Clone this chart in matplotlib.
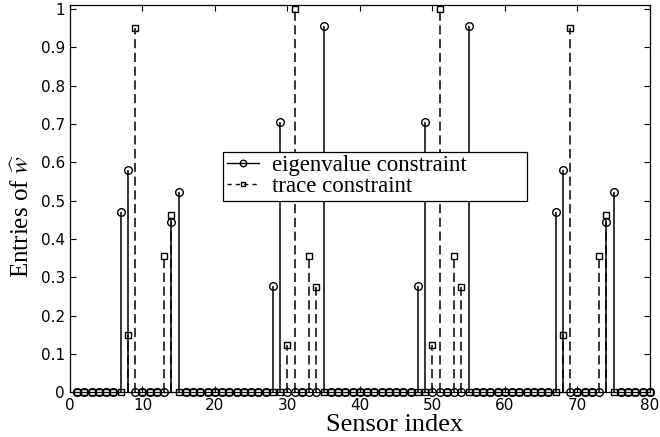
import numpy as np
import matplotlib
matplotlib.use("Agg")
import matplotlib.pyplot as plt
from matplotlib.lines import Line2D
from matplotlib.legend_handler import HandlerLine2D

# sensor indices 1..80, only the selected sensors carry a weight
n_sensors = 80
eig_idx = [7, 8, 14, 15, 28, 29, 35, 48, 49, 55, 67, 68, 74, 75]
eig_val = [0.471, 0.58, 0.444, 0.522, 0.278, 0.705, 0.955,
           0.278, 0.705, 0.955, 0.471, 0.58, 0.444, 0.522]
tr_idx = [8, 9, 13, 14, 30, 31, 33, 34, 50, 51, 53, 54, 68, 69, 73, 74]
tr_val = [0.15, 0.952, 0.357, 0.462, 0.124, 1.0, 0.356, 0.274,
          0.124, 1.0, 0.356, 0.274, 0.15, 0.952, 0.357, 0.462]

xticks = [0, 10, 20, 30, 40, 50, 60, 70, 80]
yticks = [0, 0.1, 0.2, 0.3, 0.4, 0.5, 0.6, 0.7, 0.8, 0.9, 1.0]
ytick_labels = ["0", "0.1", "0.2", "0.3", "0.4", "0.5", "0.6", "0.7", "0.8", "0.9", "1"]

idx = np.arange(1, n_sensors + 1)
w_eig = np.zeros(n_sensors)
w_eig[np.array(eig_idx) - 1] = eig_val
w_tr = np.zeros(n_sensors)
w_tr[np.array(tr_idx) - 1] = tr_val

plt.rcParams['mathtext.fontset'] = 'stix'
serif = ['Liberation Serif', 'DejaVu Serif']


class EndMarker(HandlerLine2D):
    # legend key: short line with the marker sitting at its right end
    def get_xdata(self, legend, xdescent, ydescent, width, height, fontsize):
        xdata, _ = super().get_xdata(legend, xdescent, ydescent, width, height, fontsize)
        return xdata, np.array([xdata[-1]])


fig = plt.figure(figsize=(6.6, 4.37), dpi=100)
ax = fig.add_axes([0.106, 0.1023, 0.8788, 0.8856])

ms_c, ms_s = 5.5, 4.6
dash = (0, (6, 3))

m1, s1, b1 = ax.stem(idx, w_eig, linefmt='k-', markerfmt='ko', basefmt=' ')
m1.set_markerfacecolor('none')
m1.set_markersize(ms_c)
m1.set_markeredgewidth(1.0)
m1.set_clip_on(False)
s1.set_linewidth(1.1)

m2, s2, b2 = ax.stem(idx, w_tr, linefmt='k--', markerfmt='ks', basefmt=' ')
m2.set_markerfacecolor('none')
m2.set_markersize(ms_s)
m2.set_markeredgewidth(1.0)
m2.set_clip_on(False)
s2.set_linewidth(1.1)
s2.set_linestyle(dash)

ax.set_xlim(0, 80)
ax.set_ylim(0, 1.01)
ax.set_xticks(xticks)
ax.set_yticks(yticks)
ax.set_yticklabels(ytick_labels)
ax.tick_params(direction='in', top=True, right=True, length=4, width=0.8,
               labelsize=11, colors='black')
ax.tick_params(axis='x', pad=4)
for sp in ax.spines.values():
    sp.set_linewidth(0.9)

ax.set_xlabel("Sensor index", fontsize=19, family=serif, va='baseline')
ax.xaxis.set_label_coords(0.56, -0.099)
ax.set_ylabel(r"Entries of $\widehat{w}$", fontsize=18, family=serif, va='center')
ax.yaxis.set_label_coords(-0.083, 0.458)

h_eig = Line2D([], [], color='k', lw=1.0, marker='o', ms=ms_c * 0.85,
               mfc='none', mew=1.0)
h_tr = Line2D([], [], color='k', lw=1.0, ls=(0, (3, 3)), marker='s', ms=ms_s * 0.75,
              mfc='none', mew=1.0)
# box stretched over a fixed span, text kept on the left
leg = ax.legend([h_eig, h_tr], ["eigenvalue constraint", "trace constraint"],
                loc='upper left', bbox_to_anchor=(0.264, 0.489, 0.524, 0.132),
                mode='expand', borderaxespad=0,
                prop={'family': serif, 'size': 16.5}, numpoints=1,
                handlelength=1.4, handletextpad=0.6, borderpad=0.15,
                labelspacing=0.0, fancybox=False, framealpha=1,
                edgecolor='black', handler_map={Line2D: EndMarker()})
leg.get_frame().set_linewidth(0.9)

plt.savefig("out.png", dpi=100)
